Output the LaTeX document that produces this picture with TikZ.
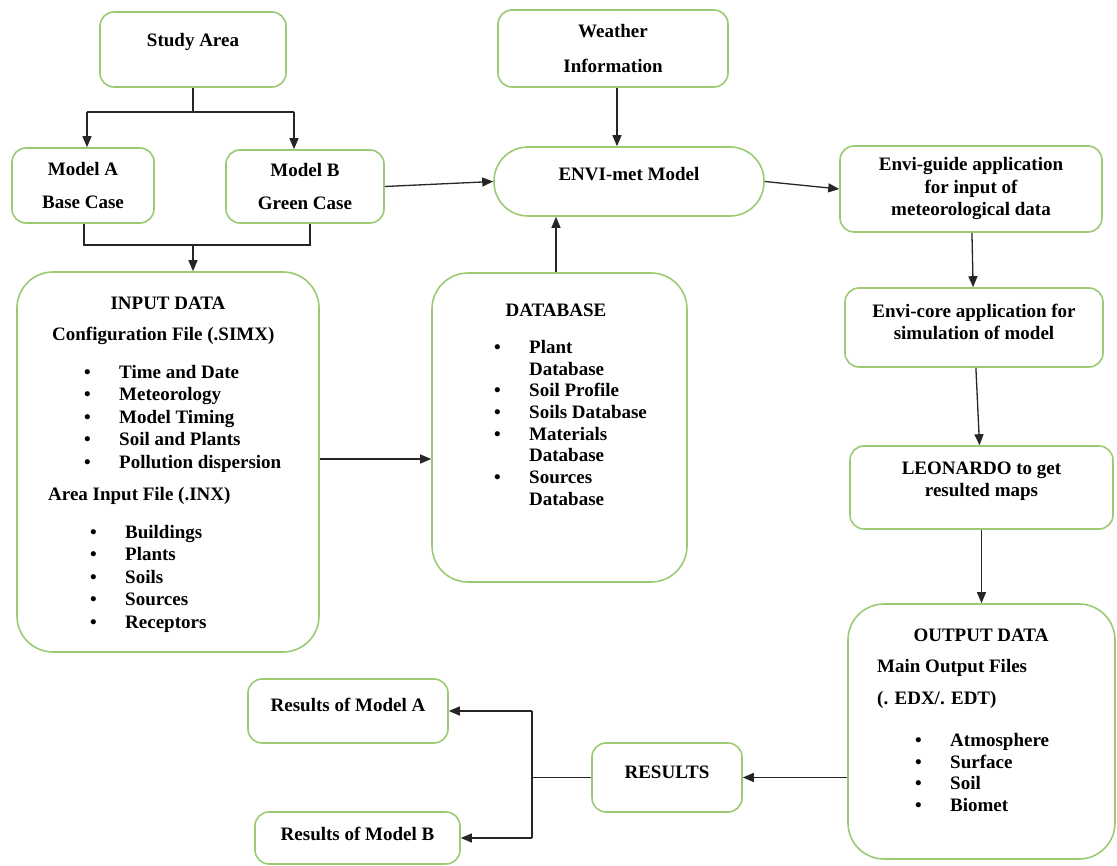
\documentclass[tikz,border=0pt]{standalone}
\usepackage{fontspec}
\setmainfont{Liberation Serif}
\usetikzlibrary{arrows.meta,positioning}

\definecolor{boxgreen}{RGB}{155,202,115}
\newcommand{\itembul}{\makebox[35pt][l]{\textbullet}}
\newcommand{\itemskip}{\hspace*{35pt}}

\tikzset{
  box/.style={draw=boxgreen, line width=1.6pt, rounded corners=14pt, align=center},
  bigbox/.style={box, rounded corners=36pt},
  txt/.style={inner sep=0pt},
  line/.style={line width=1.3pt, black!85},
  arr/.style={line, -{Triangle[length=11pt,width=9pt]}},
}

\begin{document}
\begin{tikzpicture}[x=1pt, y=-1pt, font=\fontsize{19}{22.5}\selectfont\bfseries]
    \useasboundingbox (0,0) rectangle (1117,866);

    % Top row
    \node[box, minimum width=186pt, minimum height=75pt, text depth=19pt] (study) at (193,49.5) {Study Area};
    \node[box, minimum width=142pt, minimum height=75pt] (modela) at (83,185.5) {Model A\\[10pt]Base Case};
    \node[box, minimum width=158pt, minimum height=73pt] (modelb) at (305,186.5) {Model B\\[10pt]Green Case};
    \node[box, minimum width=230pt, minimum height=77pt] (weather) at (613,48.5) {Weather\\[12.5pt]Information};
    \node[box, minimum width=270pt, minimum height=69pt, rounded corners=34pt, text depth=15pt] (envi) at (629,181.5) {ENVI-met Model};

    % Right column
    \node[box, minimum width=262pt, minimum height=86pt] (guide) at (971,189) {Envi-guide application\\for input of\\meteorological data};
    \node[box, minimum width=258pt, minimum height=79pt, text depth=11pt] (core) at (974,327.5) {Envi-core application for\\simulation of model};
    \node[box, minimum width=263pt, minimum height=83pt, text depth=17pt] (leo) at (981.5,487.5) {LEONARDO to get\\resulted maps};

    % Input data
    \node[bigbox, minimum width=302pt, minimum height=380pt] (input) at (168,462) {};
    \node[txt] (inhead) at (168,303) {INPUT DATA};
    \node[txt, anchor=west] (simx) at (52,336) {Configuration File (.SIMX)};
    \node[txt, anchor=north west, align=left] (simxlist) at (84,365)
        {\itembul Time and Date\\ \itembul Meteorology\\ \itembul Model Timing\\
         \itembul Soil and Plants\\ \itembul Pollution dispersion};
    \node[txt, anchor=west] (inx) at (48,496) {Area Input File (.INX)};
    \node[txt, anchor=north west, align=left] (inxlist) at (90,525)
        {\itembul Buildings\\ \itembul Plants\\ \itembul Soils\\ \itembul Sources\\ \itembul Receptors};

    % Database
    \node[bigbox, minimum width=255pt, minimum height=309pt] (dbase) at (559.5,427.5) {};
    \node[txt] (dbhead) at (556,310) {DATABASE};
    \node[txt, anchor=north west, align=left, font=\fontsize{19}{21.7}\selectfont\bfseries] (dblist) at (494,340)
        {\itembul Plant\\ \itemskip Database\\ \itembul Soil Profile\\ \itembul Soils Database\\
         \itembul Materials\\ \itemskip Database\\ \itembul Sources\\ \itemskip Database};

    % Output data
    \node[bigbox, minimum width=267pt, minimum height=255pt] (output) at (981.5,731.5) {};
    \node[txt] (outhead) at (981,635) {OUTPUT DATA};
    \node[txt, anchor=west] (outfiles) at (877,668) {Main Output Files};
    \node[txt, anchor=west] (outext) at (877,700) {(. EDX/. EDT)};
    \node[txt, anchor=north west, align=left, font=\fontsize{19}{21.7}\selectfont\bfseries] (outlist) at (915,733)
        {\itembul Atmosphere\\ \itembul Surface\\ \itembul Soil\\ \itembul Biomet};

    % Results
    \node[box, minimum width=150pt, minimum height=69pt, text depth=11pt] (results) at (667,777.5) {RESULTS};
    \node[box, minimum width=200pt, minimum height=64pt, text depth=12pt] (resa) at (348,711) {Results of Model A};
    \node[box, minimum width=205pt, minimum height=52pt, text depth=9pt] (resb) at (357.5,838) {Results of Model B};

    % Connectors
    \coordinate (la) at (87,112);
    \coordinate (lb) at (294,112);
    \draw[line] (study.south) -- (study.south |- la);
    \draw[line] (la) -- (lb);
    \draw[arr] (la) -- (la |- modela.north);
    \draw[arr] (lb) -- (lb |- modelb.north);

    \coordinate (ja) at (84,245);
    \coordinate (jb) at (310,245);
    \coordinate (jm) at (193,245);
    \draw[line] (ja |- modela.south) -- (ja) -- (jb) -- (jb |- modelb.south);
    \draw[arr] (jm) -- (jm |- input.north);

    \draw[arr] (weather.south -| 617,0) -- (envi.north -| 617,0);
    \draw[arr] (modelb.east) -- (envi.west);
    \draw[arr] (dbase.north -| 556,0) -- (envi.south -| 556,0);
    \draw[arr] (envi.east) -- (guide.west);
    \draw[arr] (guide) -- (core);
    \draw[arr] (core) -- (leo);
    \draw[arr] (leo) -- (output);
    \draw[arr] (input.east |- 0,459) -- (dbase.west |- 0,459);
    \draw[arr] (output.west |- results.east) -- (results.east);

    \coordinate (fork) at (532,777.5);
    \draw[line] (results.west) -- (results.west -| fork);
    \draw[line] (fork |- resa.east) -- (fork |- resb.east);
    \draw[arr] (fork |- resa.east) -- (resa.east);
    \draw[arr] (fork |- resb.east) -- (resb.east);
\end{tikzpicture}
\end{document}
